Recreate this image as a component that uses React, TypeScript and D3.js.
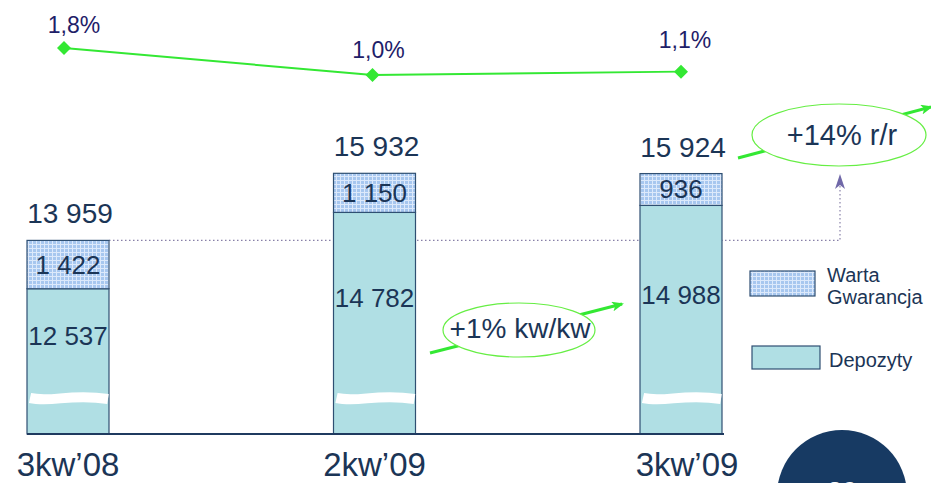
import React from "react";
import { scaleLinear, scalePoint, formatLocale, line } from "d3";

const categories = ["3kw\u201908", "2kw\u201909", "3kw\u201909"];
const depozyty = [12537, 14782, 14988];
const warta = [1422, 1150, 936];
const growth = [1.8, 1.0, 1.1];

const W = 931;
const H = 483;
const navy = "#1b3556";
const green = "#33e833";
const font = "Liberation Sans, Arial, sans-serif";

const pl = formatLocale({ decimal: ",", thousands: " ", grouping: [3], currency: ["", ""] });
const fmtNum = pl.format(",");
const fmtPct = (v: number) => pl.format(".1f")(v) + "%";

export default function App() {
  const base = 434;
  const x = scalePoint<string>().domain(categories).range([68, 681]);
  const y = scaleLinear().domain([8265, 16000]).range([base, 171]);
  const yg = scaleLinear().domain([1.0, 1.8]).range([75, 48]);
  const bw = 82;
  const waveY = base - 36;
  const totals = depozyty.map((d, i) => d + warta[i]);
  const px = (i: number) => x(categories[i])! - 4 + i * 2;

  const growthLine = line<number>()
    .x((_, i) => px(i))
    .y((d) => yg(d));

  // white "axis break" squiggle across each bar
  const wave = (cx: number) => {
    const l = cx - bw / 2 + 3;
    const r = cx + bw / 2 - 1;
    return `M${l},${waveY} C${l + 22},${waveY + 5} ${l + 40},${waveY - 5} ${r},${waveY + 1}`;
  };

  return (
    <svg width={W} height={H} style={{ position: "absolute", left: 0, top: 0 }} fontFamily={font}>
      <defs>
        <pattern id="grid" width="4" height="4" patternUnits="userSpaceOnUse">
          <rect width="4" height="4" fill="#a7c7ef" />
          <path d="M0,0.5H4M0.5,0V4" stroke="#dce9fb" strokeWidth="1" />
        </pattern>
        <marker id="gArrow" markerWidth="12" markerHeight="10" refX="10" refY="5" orient="auto" markerUnits="userSpaceOnUse">
          <path d="M0,0 L12,5 L0,10 L3,5 Z" fill={green} />
        </marker>
      </defs>
      <rect width={W} height={H} fill="#fff" />

      {/* dotted reference line */}
      <path
        d={`M${x(categories[0])! + bw / 2},${y(totals[0])} H840 V180`}
        fill="none"
        stroke="#8880a8"
        strokeWidth={1.2}
        strokeDasharray="1.5,2.5"
      />
      <path d="M840,174 L845,189 L840,185 L835,189 Z" fill="#7068a8" />

      {/* bars */}
      {categories.map((c, i) => {
        const cx = x(c)!;
        const segTop = y(depozyty[i]);
        return (
          <g key={c}>
            <rect x={cx - bw / 2} y={segTop} width={bw} height={base - segTop} fill="#b0dfe4" stroke="#2f4f72" strokeWidth={1.2} />
            <rect x={cx - bw / 2} y={y(totals[i])} width={bw} height={segTop - y(totals[i])} fill="url(#grid)" stroke="#2f4f72" strokeWidth={1.2} />
            <path d={wave(cx)} stroke="#fff" strokeWidth={10} fill="none" />
            <text x={cx} y={(y(totals[i]) + segTop) / 2 + 9} textAnchor="middle" fontSize={26} fill={navy}>
              {fmtNum(warta[i])}
            </text>
            <text x={cx} y={(segTop + waveY) / 2 + 2} textAnchor="middle" fontSize={26} fill={navy}>
              {fmtNum(depozyty[i])}
            </text>
            <text x={cx + 2} y={y(totals[i]) - 17} textAnchor="middle" fontSize={28} fill={navy}>
              {fmtNum(totals[i])}
            </text>
            <text x={cx + (i === 2 ? 6 : 0)} y={476} textAnchor="middle" fontSize={33} fill={navy}>
              {c}
            </text>
          </g>
        );
      })}

      {/* axis baseline */}
      <line x1={27} x2={724} y1={base} y2={base} stroke="#1f3a5f" strokeWidth={2} />

      {/* growth line */}
      <path d={growthLine(growth)!} fill="none" stroke={green} strokeWidth={2} />
      {growth.map((g, i) => {
        const gx = px(i);
        const gy = yg(g);
        return (
          <g key={i}>
            <path d={`M${gx},${gy - 7} L${gx + 7},${gy} L${gx},${gy + 7} L${gx - 7},${gy} Z`} fill={green} />
            <text x={gx + (i === 0 ? 10 : i === 2 ? 4 : 6)} y={gy - (i === 0 ? 15 : i === 1 ? 17 : 24)} textAnchor="middle" fontSize={23} fill="#1e2068">
              {fmtPct(g)}
            </text>
          </g>
        );
      })}

      {/* +1% kw/kw */}
      <line x1={430} y1={353} x2={622} y2={304} stroke={green} strokeWidth={3} markerEnd="url(#gArrow)" />
      <ellipse cx={519} cy={330} rx={76} ry={27} fill="#fff" stroke="#66ee44" strokeWidth={1.2} />
      <text x={520} y={338} textAnchor="middle" fontSize={28} fill={navy}>+1% kw/kw</text>

      {/* +14% r/r */}
      <line x1={738} y1={158} x2={931} y2={107} stroke={green} strokeWidth={3} markerEnd="url(#gArrow)" />
      <ellipse cx={839} cy={135} rx={87} ry={31} fill="#fff" stroke="#66ee44" strokeWidth={1.2} />
      <text x={842} y={145} textAnchor="middle" fontSize={29} fill={navy}>+14% r/r</text>

      {/* legend */}
      <rect x={750} y={271} width={65} height={25} fill="url(#grid)" stroke="#2f4f72" strokeWidth={1.2} />
      <text x={827} y={282} fontSize={20} fill={navy}>Warta</text>
      <text x={827} y={304} fontSize={20} fill={navy}>Gwarancja</text>
      <rect x={752} y={346} width={68} height={23} fill="#b0dfe4" stroke="#2f4f72" strokeWidth={1.2} />
      <text x={829} y={367} fontSize={20} fill={navy}>Depozyty</text>

      {/* page badge */}
      <circle cx={842} cy={495} r={65} fill="#173a63" />
      <text x={842} y={500} textAnchor="middle" fontSize={26} fontWeight="bold" fill="#fff">26</text>
    </svg>
  );
}
